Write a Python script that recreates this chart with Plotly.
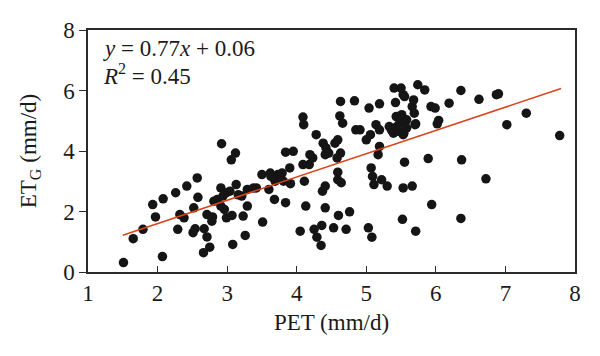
import plotly.graph_objects as go

# PET (mm/d) values
pet = [
    1.51, 1.65, 1.79, 1.93, 1.97, 2.07, 2.08, 2.26, 2.29, 2.32, 2.38, 2.42, 2.52, 2.51, 2.54,
    2.57, 2.58, 2.67, 2.71, 2.71, 2.78, 2.79, 2.66, 2.75, 2.81, 2.91, 2.92, 2.91, 2.94, 2.96,
    2.99, 2.99, 3.07, 3.04, 3.06, 3.12, 3.13, 3.08, 3.21, 3.23, 3.29, 3.26, 3.29, 3.38, 3.42,
    3.16, 2.86,
    3.50, 3.51, 3.60, 3.63, 3.62, 3.68, 3.69, 3.73, 3.79, 3.81, 3.84, 3.84, 3.90, 3.91, 3.95,
    4.05, 4.09, 4.10, 4.09, 4.11, 4.13, 4.18, 4.19, 4.23, 4.28, 4.25, 4.29, 4.35, 4.36, 4.37,
    4.41, 4.41, 4.38, 4.42, 4.41, 4.46, 4.53, 4.55, 4.59, 4.58, 4.59, 4.59, 4.60, 4.63, 4.62,
    4.66, 4.63, 4.64, 4.71, 4.76, 4.83, 4.85, 4.91, 5.00, 5.04, 5.06, 5.03, 5.08, 5.07, 5.09,
    5.11, 5.14, 5.17, 5.19, 5.19, 5.19, 5.22, 5.30,
    5.33, 5.39, 5.40, 5.42, 5.44, 5.47, 5.50, 5.51, 5.52, 5.53, 5.55, 5.55, 5.54, 5.58, 5.66,
    5.66, 5.68, 5.69, 5.71, 5.71, 5.74, 5.84, 5.89, 5.94, 5.93, 5.99, 6.02, 6.04, 6.19, 6.36,
    6.37, 6.36, 6.62, 6.72, 6.87, 6.90, 7.02, 7.30, 7.78,
    5.43, 5.48, 5.36, 5.53, 5.70, 5.53, 5.58,
]

# ET_G (mm/d) values
etg = [
    0.31, 1.10, 1.41, 2.23, 1.82, 0.51, 2.42, 2.62, 1.41, 1.90, 1.79, 2.84, 2.12, 1.30, 1.43,
    3.11, 2.47, 1.43, 1.16, 1.90, 1.68, 1.82, 0.64, 0.82, 2.34, 2.78, 4.24, 2.18, 2.51, 2.07,
    2.62, 1.79, 1.87, 2.67, 3.71, 3.93, 2.89, 0.91, 2.51, 1.85, 2.18, 1.21, 2.73, 2.78, 2.78,
    2.55, 2.40,
    3.22, 1.65, 2.73, 3.16, 3.27, 2.40, 3.00, 3.22, 3.27, 3.00, 2.29, 3.96, 3.44, 2.92, 3.99,
    1.35, 5.12, 4.87, 3.55, 3.00, 2.18, 3.55, 3.88, 3.77, 4.54, 1.41, 1.15, 0.88, 1.54, 2.67,
    2.84, 2.12, 4.26, 4.10, 3.88, 3.93, 1.46, 4.26, 4.37, 3.77, 3.30, 3.05, 1.87, 5.64, 5.16,
    4.92, 3.93, 2.95, 1.41, 1.99, 5.66, 4.70, 4.70, 4.37, 5.42, 4.54, 1.46, 1.15, 3.44, 3.16,
    2.89, 4.87, 3.88, 4.15, 5.56, 4.70, 3.05, 2.84,
    4.81, 4.59, 6.08, 5.60, 4.81, 4.65, 6.08, 5.20, 1.74, 2.78, 5.80, 3.63, 4.59, 5.03, 2.84,
    5.47, 5.69, 5.25, 1.35, 4.90, 6.19, 6.02, 3.75, 2.23, 5.47, 5.42, 4.90, 5.01, 5.58, 6.00,
    3.71, 1.77, 5.71, 3.08, 5.86, 5.89, 4.87, 5.25, 4.51,
    5.14, 4.92, 4.70, 4.54, 4.87, 5.86, 4.76,
]

# regression line y = 0.77x + 0.06 drawn over the PET range
slope = 0.77
intercept = 0.06
fit_x = [1.5, 7.8]
fit_y = [slope * v + intercept for v in fit_x]

eq_line1 = "<i>y</i> = 0.77<i>x</i> + 0.06"
eq_line2 = "<i>R</i><sup>2</sup> = 0.45"

x_ticks = [1, 2, 3, 4, 5, 6, 7, 8]
y_ticks = [0, 2, 4, 6, 8]

FONT = "Liberation Serif"
AX = "#2b2b2b"
TXT = "#1a1a1a"
FS = 23

fig = go.Figure()
fig.add_trace(go.Scatter(
    x=pet, y=etg, mode="markers",
    marker=dict(color="#151515", size=9.5, line=dict(width=0)),
    showlegend=False, hoverinfo="skip",
))
fig.add_trace(go.Scatter(
    x=fit_x, y=fit_y, mode="lines",
    line=dict(color="#d9441c", width=1.5),
    showlegend=False, hoverinfo="skip",
))

fig.add_annotation(x=1.19, y=7.4, xref="x", yref="y", text=eq_line1,
                   showarrow=False, xanchor="left", yanchor="middle",
                   font=dict(family=FONT, size=FS, color=TXT))
fig.add_annotation(x=1.19, y=6.52, xref="x", yref="y", text=eq_line2,
                   showarrow=False, xanchor="left", yanchor="middle",
                   font=dict(family=FONT, size=FS, color=TXT))

# page body has an 8px margin, so the figure is sized/offset to compensate
fig.update_layout(
    width=592, height=348,
    margin=dict(l=80, r=25, t=22, b=84),
    paper_bgcolor="white", plot_bgcolor="white",
    font=dict(family=FONT, size=FS, color=TXT),
)
fig.update_xaxes(
    range=[1, 8], tickvals=x_ticks, ticktext=[str(v) for v in x_ticks],
    showgrid=False, zeroline=False, automargin=False,
    showline=True, linecolor=AX, linewidth=1.5, mirror=True,
    ticks="inside", ticklen=6, tickwidth=1.2, tickcolor=AX,
    tickfont=dict(family=FONT, size=FS, color=TXT),
    title=dict(text="PET (mm/d)", font=dict(family=FONT, size=FS, color=TXT), standoff=9),
)
fig.update_yaxes(
    range=[0, 8], tickvals=y_ticks, ticktext=[str(v) for v in y_ticks],
    showgrid=False, zeroline=False, automargin=False,
    showline=True, linecolor=AX, linewidth=1.5, mirror=True,
    ticks="outside", ticklen=7, tickwidth=1.2, tickcolor=AX,
    tickfont=dict(family=FONT, size=FS, color=TXT),
    title=dict(text="ET<sub>G</sub> (mm/d)", font=dict(family=FONT, size=FS, color=TXT), standoff=20),
)

fig.write_html("out.html")
